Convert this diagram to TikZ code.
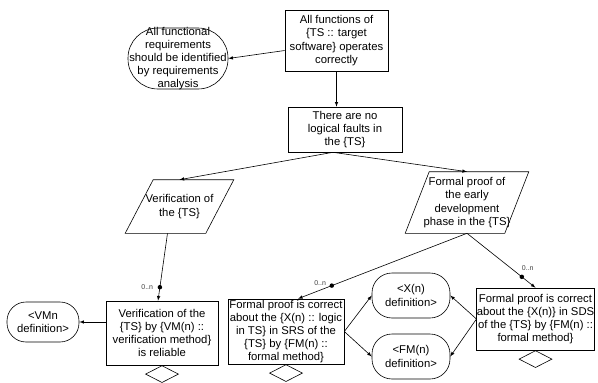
\documentclass[tikz,border=0pt]{standalone}
\usepackage{fontspec}
\setmainfont{Liberation Sans}
\usetikzlibrary{positioning,shapes.geometric}

\begin{document}
\begin{tikzpicture}[x=1pt,y=-1pt,>=latex,line width=0.6pt,
  every node/.style={font=\fontsize{11.3}{13.2}\selectfont,align=center,inner sep=1pt},
  goalbox/.style={draw,rectangle,inner sep=0pt},
  ctxbox/.style={draw,rectangle,rounded corners=20pt,inner sep=0pt},
  stratbox/.style={rectangle,inner sep=0pt},
  undev/.style={draw,diamond,anchor=north,minimum width=33pt,minimum height=17pt,inner sep=0pt},
  dotmark/.style={circle,fill,inner sep=0pt,minimum size=4.5pt},
  mult/.style={font=\fontsize{7}{8}\selectfont,text=black!75,inner sep=0pt}]
\useasboundingbox (0,0) rectangle (598,383);

% top goal and its context
\node[goalbox,minimum width=103pt,minimum height=61pt] (g1) at (336.5,40.5)
    {All functions of\\\{TS :: target\\software\} operates\\correctly};
\node[ctxbox,rounded corners=30pt,minimum width=100pt,minimum height=61pt,inner ysep=-3pt] (c1) at (178,58.5)
    {All functional\\requirements\\should be identified\\by requirements\\analysis};
\node[goalbox,minimum width=114pt,minimum height=45pt] (g2) at (345,129.5)
    {There are no\\logical faults in\\the \{TS\}};

% strategies
\node[stratbox,minimum width=80pt,minimum height=53pt] (s1) at (179.5,206.5)
    {Verification of\\the \{TS\}};
\node[stratbox,minimum width=99pt,minimum height=61pt] (s2) at (467,202.5)
    {Formal proof of\\the early\\development\\phase in the \{TS\}};
% parallelogram outlines
\draw ([xshift=14pt]s1.north west) -- ([xshift=14pt]s1.north east)
    -- ([xshift=-14pt]s1.south east) -- ([xshift=-14pt]s1.south west) -- cycle;
\draw ([xshift=12pt]s2.north west) -- ([xshift=12pt]s2.north east)
    -- ([xshift=-12pt]s2.south east) -- ([xshift=-12pt]s2.south west) -- cycle;

% solutions
\node[goalbox,minimum width=112pt,minimum height=64pt] (e1) at (162,333)
    {Verification of the\\\{TS\} by \{VM(n) ::\\verification method\}\\is reliable};
\node[goalbox,minimum width=116pt,minimum height=65pt] (e2) at (286,331.5)
    {Formal proof is correct\\about the \{X(n) :: logic\\in TS\} in SRS of the\\\{TS\} by \{FM(n) ::\\formal method\}};
\node[goalbox,minimum width=117pt,minimum height=62pt] (e3) at (535.5,319)
    {Formal proof is correct\\about the \{X(n)\} in SDS\\of the \{TS\} by \{FM(n) ::\\formal method\}};

% definitions
\node[ctxbox,rounded corners=19pt,minimum width=72pt,minimum height=40pt] (c2) at (43,322)
    {<VMn\\definition>};
\node[ctxbox,minimum width=78pt,minimum height=45pt] (c3) at (411,295.5)
    {<X(n)\\definition>};
\node[ctxbox,minimum width=78pt,minimum height=45pt] (c4) at (411,356.5)
    {<FM(n)\\definition>};

% undeveloped marks
\node[undev] (u1) at (e1.south) {};
\node[undev] (u2) at (e2.south) {};
\node[undev] (u3) at (e3.south) {};

% links
\draw[->] ([yshift=-10pt]g1.west) -- (c1.east);
\draw[->] (g1.south) -- (g1.south |- g2.north);
\draw[->] ([xshift=-12pt]g2.south) -- (s1.north);
\draw[->] ([xshift=-12pt]g2.south) -- (s2.north);
\draw[->] ([xshift=-12pt]s1.south) -- node[dotmark,pos=.8] (m1) {} ([xshift=-4pt]e1.north);
\draw[->] (s2.south) -- node[dotmark,pos=.8] (m2) {} ([xshift=12pt]e2.north);
\draw[->] (s2.south) -- node[dotmark,pos=.8] (m3) {} (e3.north);
\draw[->] (e1.west |- c2.east) -- (c2.east);
\draw[->] (e2.east) -- (c3.west);
\draw[->] (e2.east) -- (c4.west);
\draw[->] (e3.west) -- (c3.east);
\draw[->] (e3.west) -- (c4.east);

% multiplicities
\node[mult,left=4pt of m1] (n1) {0..n};
\node[mult,left=3pt of m2,yshift=3pt] (n2) {0..n};
\node[mult,above=3pt of m3,xshift=6pt] (n3) {0..n};

\end{tikzpicture}
\end{document}
